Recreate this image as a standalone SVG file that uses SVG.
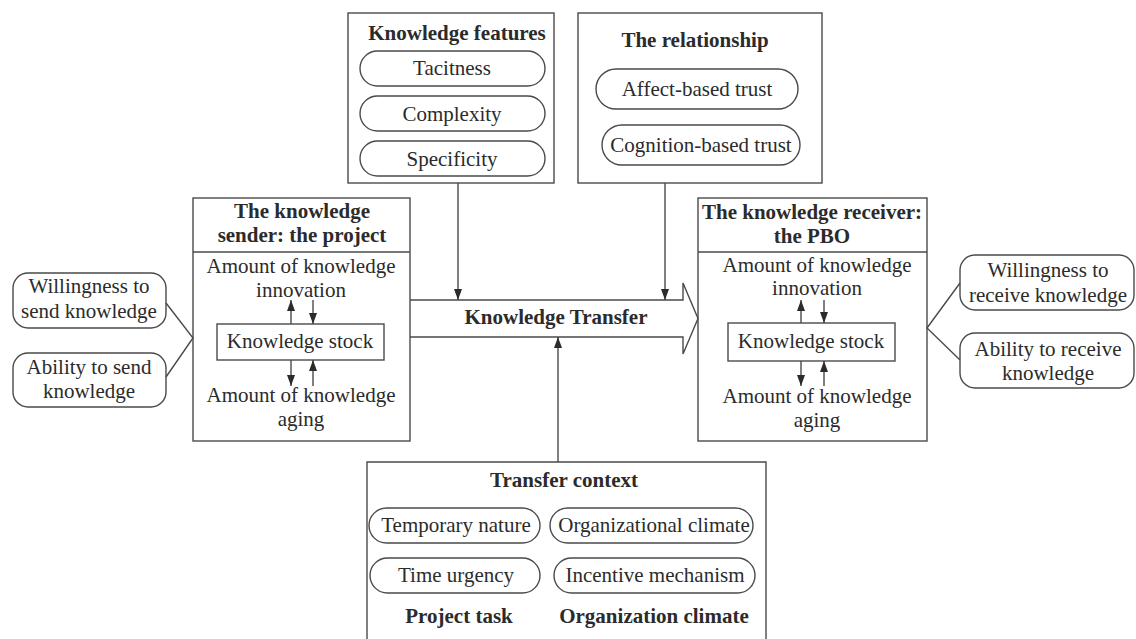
<svg xmlns="http://www.w3.org/2000/svg" width="1136" height="639" viewBox="0 0 1136 639">
<style>
.box{fill:none;stroke:#4a4a4a;stroke-width:1.4}
.pill{fill:#fff;stroke:#4a4a4a;stroke-width:1.4}
.ln{fill:none;stroke:#4a4a4a;stroke-width:1.4}
.t{font-family:"Liberation Serif","Times New Roman",serif;font-size:21px;fill:#2b2b2b;text-anchor:middle}
.b{font-weight:bold}
</style>
<defs>
<marker id="ah" viewBox="0 0 11 8" refX="11" refY="4" markerWidth="11" markerHeight="8" orient="auto" markerUnits="userSpaceOnUse">
<path d="M0,0 L11,4 L0,8 z" fill="#2b2b2b"/>
</marker>
</defs>
<rect width="1136" height="639" fill="#fff"/>

<g id="knowledge-features">
<rect class="box" x="348" y="13" width="206" height="170"/>
<text class="t b" x="457" y="40">Knowledge features</text>
<rect class="pill" x="360" y="51" width="185" height="35" rx="17.5"/>
<text class="t" x="452" y="75">Tacitness</text>
<rect class="pill" x="360" y="96" width="185" height="35" rx="17.5"/>
<text class="t" x="452" y="121">Complexity</text>
<rect class="pill" x="360" y="141" width="185" height="35" rx="17.5"/>
<text class="t" x="452" y="166">Specificity</text>
</g>

<g id="relationship">
<rect class="box" x="578" y="13" width="244" height="170"/>
<text class="t b" x="695" y="47">The relationship</text>
<rect class="pill" x="596" y="69" width="202" height="40" rx="20"/>
<text class="t" x="697" y="96">Affect-based trust</text>
<rect class="pill" x="602" y="125" width="198" height="40" rx="20"/>
<text class="t" x="701" y="152">Cognition-based trust</text>
</g>

<g id="sender">
<rect class="box" x="193" y="198" width="217" height="243"/>
<line class="ln" x1="193" y1="252" x2="410" y2="252"/>
<text class="t b" x="302" y="218">The knowledge</text>
<text class="t b" x="302" y="242">sender: the project</text>
<text class="t" x="301" y="273">Amount of knowledge</text>
<text class="t" x="301" y="297">innovation</text>
<rect class="box" x="217" y="324" width="167" height="36"/>
<text class="t" x="300" y="348">Knowledge stock</text>
<text class="t" x="301" y="402">Amount of knowledge</text>
<text class="t" x="301" y="426">aging</text>
</g>

<g id="receiver">
<rect class="box" x="698" y="198" width="229" height="243"/>
<line class="ln" x1="698" y1="252" x2="927" y2="252"/>
<text class="t b" x="812" y="219">The knowledge receiver:</text>
<text class="t b" x="812" y="243">the PBO</text>
<text class="t" x="817" y="272">Amount of knowledge</text>
<text class="t" x="817" y="295">innovation</text>
<rect class="box" x="728" y="323" width="167" height="38"/>
<text class="t" x="811" y="348">Knowledge stock</text>
<text class="t" x="817" y="403">Amount of knowledge</text>
<text class="t" x="817" y="427">aging</text>
</g>

<g id="sender-willingness">
<rect class="pill" x="13" y="273" width="153" height="55" rx="15"/>
<text class="t" x="89" y="293">Willingness to</text>
<text class="t" x="89" y="318">send knowledge</text>
</g>
<g id="sender-ability">
<rect class="pill" x="13" y="353" width="153" height="54" rx="15"/>
<text class="t" x="89" y="374">Ability to send</text>
<text class="t" x="89" y="398">knowledge</text>
</g>

<g id="receiver-willingness">
<rect class="pill" x="960" y="255" width="174" height="55" rx="15"/>
<text class="t" x="1048" y="277">Willingness to</text>
<text class="t" x="1048" y="302">receive knowledge</text>
</g>
<g id="receiver-ability">
<rect class="pill" x="960" y="333" width="174" height="55" rx="15"/>
<text class="t" x="1048" y="356">Ability to receive</text>
<text class="t" x="1048" y="380">knowledge</text>
</g>

<g id="knowledge-transfer">
<path class="ln" d="M410,300 L683,300 L683,283 L698,318.5 L683,354 L683,337 L410,337"/>
<text class="t b" x="556" y="324">Knowledge Transfer</text>
</g>

<g id="transfer-context">
<path class="box" d="M367,639 L367,462 L766,462 L766,639"/>
<text class="t b" x="564" y="487">Transfer context</text>
<rect class="pill" x="369" y="508" width="171" height="35" rx="17.5"/>
<text class="t" x="456" y="532">Temporary nature</text>
<rect class="pill" x="550" y="508" width="203" height="35" rx="17.5"/>
<text class="t" x="654" y="532">Organizational climate</text>
<rect class="pill" x="370" y="558" width="170" height="35" rx="17.5"/>
<text class="t" x="456" y="582">Time urgency</text>
<rect class="pill" x="554" y="558" width="201" height="35" rx="17.5"/>
<text class="t" x="655" y="582">Incentive mechanism</text>
<text class="t b" x="459" y="623">Project task</text>
<text class="t b" x="654" y="623">Organization climate</text>
</g>

<g id="connectors">
<line class="ln" x1="458" y1="183" x2="458" y2="300" marker-end="url(#ah)"/>
<line class="ln" x1="665" y1="183" x2="665" y2="300" marker-end="url(#ah)"/>
<line class="ln" x1="558" y1="462" x2="558" y2="337" marker-end="url(#ah)"/>
<line class="ln" x1="291" y1="324" x2="291" y2="300" marker-end="url(#ah)"/>
<line class="ln" x1="313" y1="300" x2="313" y2="324" marker-end="url(#ah)"/>
<line class="ln" x1="291" y1="360" x2="291" y2="386" marker-end="url(#ah)"/>
<line class="ln" x1="313" y1="386" x2="313" y2="360" marker-end="url(#ah)"/>
<line class="ln" x1="801" y1="323" x2="801" y2="300" marker-end="url(#ah)"/>
<line class="ln" x1="824" y1="300" x2="824" y2="323" marker-end="url(#ah)"/>
<line class="ln" x1="801" y1="361" x2="801" y2="386" marker-end="url(#ah)"/>
<line class="ln" x1="824" y1="386" x2="824" y2="361" marker-end="url(#ah)"/>
<polyline class="ln" points="166,303 193,338 166,377"/>
<polyline class="ln" points="960,283 927,328 960,360"/>
</g>
</svg>
